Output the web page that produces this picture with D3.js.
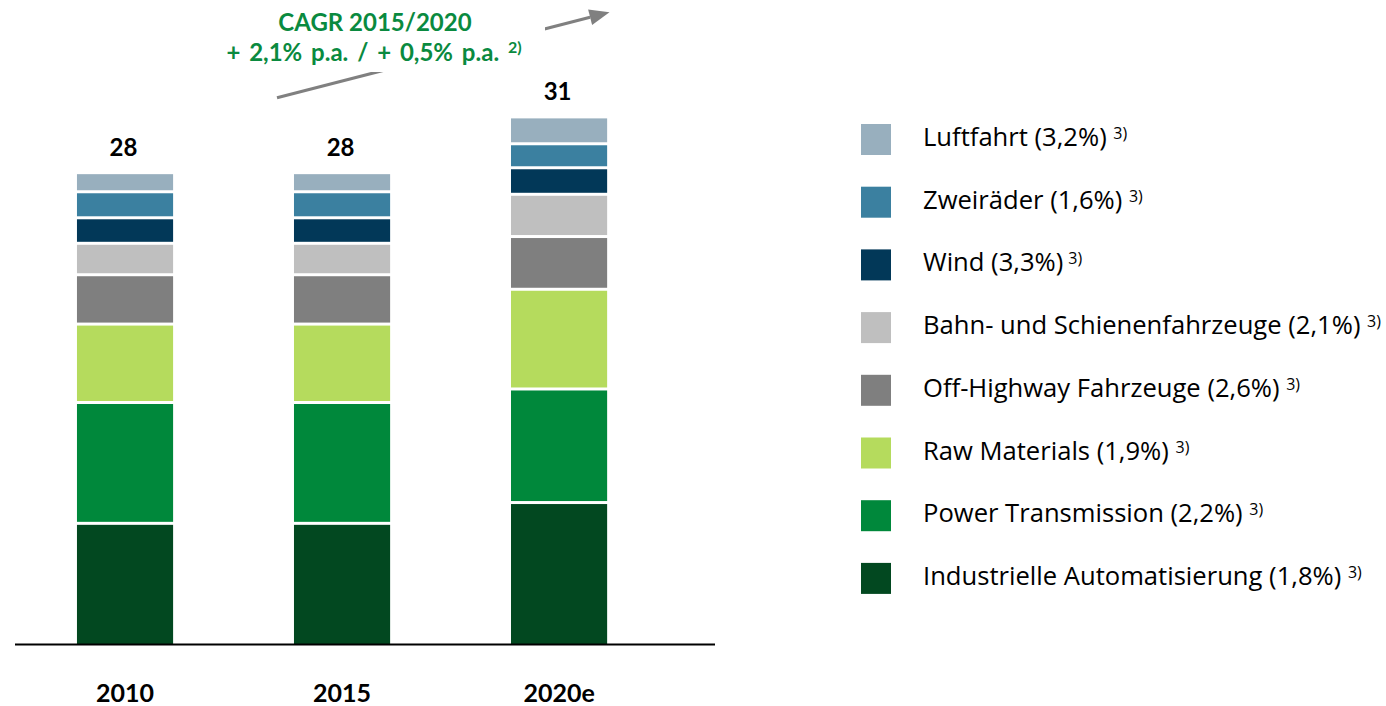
<!DOCTYPE html>
<html>
<head>
<meta charset="utf-8">
<script src="https://cdn.jsdelivr.net/npm/d3@7"></script>
<style>
  html, body { margin: 0; padding: 0; background: #fff; }
  svg { display: block; font-family: Lato, "Open Sans", sans-serif; }
</style>
</head>
<body>
<svg id="chart" width="1386" height="706"></svg>
<script>
// ---- data ----
const years = ["2010", "2015", "2020e"];
const totalLabels = ["28", "28", "31"];
const seriesNames = [
  "Industrielle Automatisierung",
  "Power Transmission",
  "Raw Materials",
  "Off-Highway Fahrzeuge",
  "Bahn- und Schienenfahrzeuge",
  "Wind",
  "Zweiräder",
  "Luftfahrt"
];
const seriesCagr = ["1,8%", "2,2%", "1,9%", "2,6%", "2,1%", "3,3%", "1,6%", "3,2%"];
const industrielleAutomatisierung = [7.14, 7.14, 8.37];
const powerTransmission = [7.15, 7.15, 6.72];
const rawMaterials = [4.64, 4.64, 5.90];
const offHighway = [2.92, 2.92, 3.12];
const bahnSchiene = [1.86, 1.86, 2.50];
const wind = [1.51, 1.51, 1.57];
const zweiraeder = [1.54, 1.54, 1.42];
const luftfahrt = [1.13, 1.13, 1.59];
const seriesColors = ["#024820", "#00883B", "#B5DB5D", "#7F7F7F", "#BFBFBF", "#023858", "#3B80A0", "#98AFBE"];
const cagrLine1 = "CAGR 2015/2020";
const cagrLine2 = "+ 2,1% p.a. / + 0,5% p.a.";
const cagrNote = "2)";
const legendNote = "3)";

// ---- build table ----
const seriesValues = [industrielleAutomatisierung, powerTransmission, rawMaterials, offHighway,
  bahnSchiene, wind, zweiraeder, luftfahrt];
const table = years.map((yr, i) => {
  const row = { year: yr };
  seriesNames.forEach((s, j) => row[s] = seriesValues[j][i]);
  return row;
});
const stacked = d3.stack().keys(seriesNames)(table);

const svg = d3.select("#chart");
const baseY = 644;
const x = d3.scaleBand().domain(years).range([16.2, 667.9]).paddingInner(0.557).paddingOuter(0.28);
const y = d3.scaleLinear().domain([0, 32]).range([baseY, baseY - 32 * 16.9]);
const color = d3.scaleOrdinal().domain(seriesNames).range(seriesColors);

// ---- bars ----
const gap = 1.5;
svg.append("g").selectAll("g").data(stacked).join("g")
  .attr("fill", d => color(d.key))
  .selectAll("rect").data(d => d).join("rect")
  .attr("x", d => x(d.data.year))
  .attr("width", x.bandwidth())
  .attr("y", d => y(d[1]) + gap)
  .attr("height", d => Math.max(0, y(d[0]) - y(d[1]) - gap - (d[0] === 0 ? 0 : gap)));

// ---- baseline ----
svg.append("line")
  .attr("x1", 15).attr("x2", 715)
  .attr("y1", baseY + 0.5).attr("y2", baseY + 0.5)
  .attr("stroke", "#000").attr("stroke-width", 2.2);

// ---- year labels ----
const xAxis = d3.axisBottom(x).tickSize(0).tickPadding(0);
const gx = svg.append("g").attr("transform", `translate(0,${baseY})`).call(xAxis);
gx.select(".domain").remove();
gx.selectAll("text")
  .attr("y", 58).attr("dy", null)
  .attr("font-family", "Lato, 'Open Sans', sans-serif")
  .attr("font-size", 25).attr("font-weight", "bold").attr("fill", "#000");

// ---- totals ----
const lastSeries = stacked[stacked.length - 1];
svg.append("g").selectAll("text").data(lastSeries).join("text")
  .attr("x", d => x(d.data.year) + x.bandwidth() / 2 - 1.5)
  .attr("y", d => y(d[1]) - 16.5)
  .attr("text-anchor", "middle")
  .attr("font-size", 24).attr("font-weight", "bold").attr("fill", "#000")
  .text((d, i) => totalLabels[i]);

// ---- CAGR arrow ----
const ax1 = 277, ay1 = 97.7, ax2 = 609.5, ay2 = 12.3;
const ang = Math.atan2(ay2 - ay1, ax2 - ax1);
const headLen = 20, headW = 8;
const bx = ax2 - headLen * Math.cos(ang), by = ay2 - headLen * Math.sin(ang);
svg.append("line")
  .attr("x1", ax1).attr("y1", ay1).attr("x2", bx).attr("y2", by)
  .attr("stroke", "#808080").attr("stroke-width", 3);
svg.append("polygon")
  .attr("points", [
    [ax2, ay2],
    [bx + headW * Math.sin(ang), by - headW * Math.cos(ang)],
    [bx - headW * Math.sin(ang), by + headW * Math.cos(ang)]
  ].map(p => p.join(",")).join(" "))
  .attr("fill", "#808080");
svg.append("rect").attr("x", 200).attr("y", 0).attr("width", 345).attr("height", 72).attr("fill", "#fff");

const cg = svg.append("g").attr("fill", "#0A8A3F").attr("font-weight", "bold").attr("text-anchor", "middle");
cg.append("text").attr("x", 375).attr("y", 31).attr("font-size", 24).text(cagrLine1);
const t2 = cg.append("text").attr("x", 374).attr("y", 61).attr("font-size", 24).attr("word-spacing", 3);
t2.append("tspan").text(cagrLine2 + " ");
t2.append("tspan").attr("font-size", 16).attr("dy", -8).text(cagrNote);

// ---- legend ----
const legendOrder = seriesNames.slice().reverse();
const lg = svg.append("g").selectAll("g").data(legendOrder).join("g")
  .attr("transform", (d, i) => `translate(861,${124 + i * 62.7})`);
lg.append("rect").attr("width", 30).attr("height", 31).attr("fill", d => color(d));
const lt = lg.append("text").attr("x", 62).attr("y", 22)
  .attr("font-family", "'Open Sans', Lato, sans-serif")
  .attr("font-size", 24).attr("fill", "#000");
const mainSpans = lt.append("tspan").text(d => `${d} (${seriesCagr[seriesNames.indexOf(d)]})` + (d === "Wind" ? "" : " "));
lt.append("tspan").attr("font-size", 16).attr("dy", -7).attr("dx", d => d === "Wind" ? 5 : 0).text(legendNote);
// fit legend font so the longest label matches the reference width
const refNode = mainSpans.filter(d => d === "Industrielle Automatisierung").node();
const measured = refNode.getComputedTextLength();
const fitted = Math.min(26, Math.max(20, 24 * 425 / measured));
mainSpans.attr("font-size", fitted);
</script>
</body>
</html>
